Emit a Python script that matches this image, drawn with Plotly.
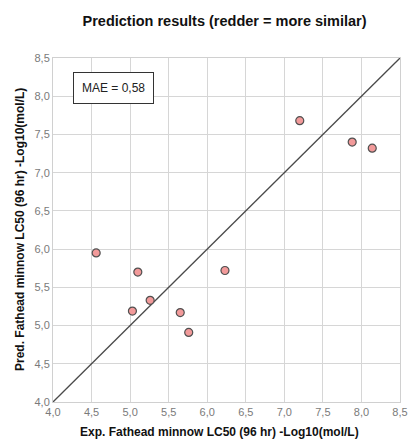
import plotly.graph_objects as go

exp_vals = [4.56, 5.10, 5.26, 5.03, 5.65, 5.76, 6.23, 7.20, 7.88, 8.14]
pred_vals = [5.95, 5.70, 5.33, 5.19, 5.17, 4.91, 5.72, 7.68, 7.40, 7.32]
diag = [4.0, 8.5]
ticks = [4.0, 4.5, 5.0, 5.5, 6.0, 6.5, 7.0, 7.5, 8.0, 8.5]
mae_text = "MAE = 0,58"
title_text = "Prediction results (redder = more similar)"
x_title = "Exp. Fathead minnow LC50 (96 hr) -Log10(mol/L)"
y_title = "Pred. Fathead minnow LC50 (96 hr) -Log10(mol/L)"

FONT = "Liberation Sans"

fig = go.Figure()
fig.add_trace(go.Scatter(x=diag, y=diag, mode="lines",
                         line=dict(color="#4a4a4a", width=1.3), hoverinfo="skip"))
fig.add_trace(go.Scatter(x=exp_vals, y=pred_vals, mode="markers",
                         marker=dict(size=8, color="#f29a9a",
                                     line=dict(color="#505050", width=1.2))))

axis_common = dict(range=[4.0, 8.5], tickvals=ticks, tickformat=".1f",
                   showgrid=True, gridcolor="#d6d6d6", gridwidth=1,
                   showline=True, linecolor="#d0d0d0", mirror=True,
                   zeroline=False, ticks="", automargin=False,
                   ticklabeloverflow="allow",
                   tickfont=dict(size=11, color="#7a7a7a", family=FONT))

fig.update_xaxes(**axis_common)
fig.update_yaxes(**axis_common)

fig.add_annotation(x=0.173, y=0.913, xref="paper", yref="paper", xanchor="center", yanchor="middle",
                   text=mae_text, showarrow=False, font=dict(size=12, color="#222222", family=FONT),
                   bordercolor="#333333", borderwidth=1, borderpad=8, bgcolor="white")

fig.add_annotation(x=0.481, y=0, xref="paper", yref="paper", xanchor="center", yanchor="middle",
                   yshift=-30, text="<b>" + x_title + "</b>", showarrow=False,
                   font=dict(size=12, color="#111111", family=FONT))
fig.add_annotation(x=0, y=0.5, xref="paper", yref="paper", xanchor="center", yanchor="middle",
                   xshift=-33, textangle=-90, text="<b>" + y_title + "</b>", showarrow=False,
                   font=dict(size=12, color="#111111", family=FONT))

fig.update_layout(
    width=409, height=439,
    margin=dict(l=53, r=9, t=58, b=37),
    paper_bgcolor="white", plot_bgcolor="white",
    showlegend=False,
    separators=", ",
    font=dict(family=FONT, size=11, color="#222222"),
    title=dict(text="<b>" + title_text + "</b>",
               x=0.549, xanchor="center", y=0.952, yanchor="middle",
               font=dict(size=14.5, color="#111111", family=FONT)),
)

fig.write_html("out.html", config={"displayModeBar": False},
               post_script="document.body.style.margin='0';document.body.style.overflow='hidden';")
